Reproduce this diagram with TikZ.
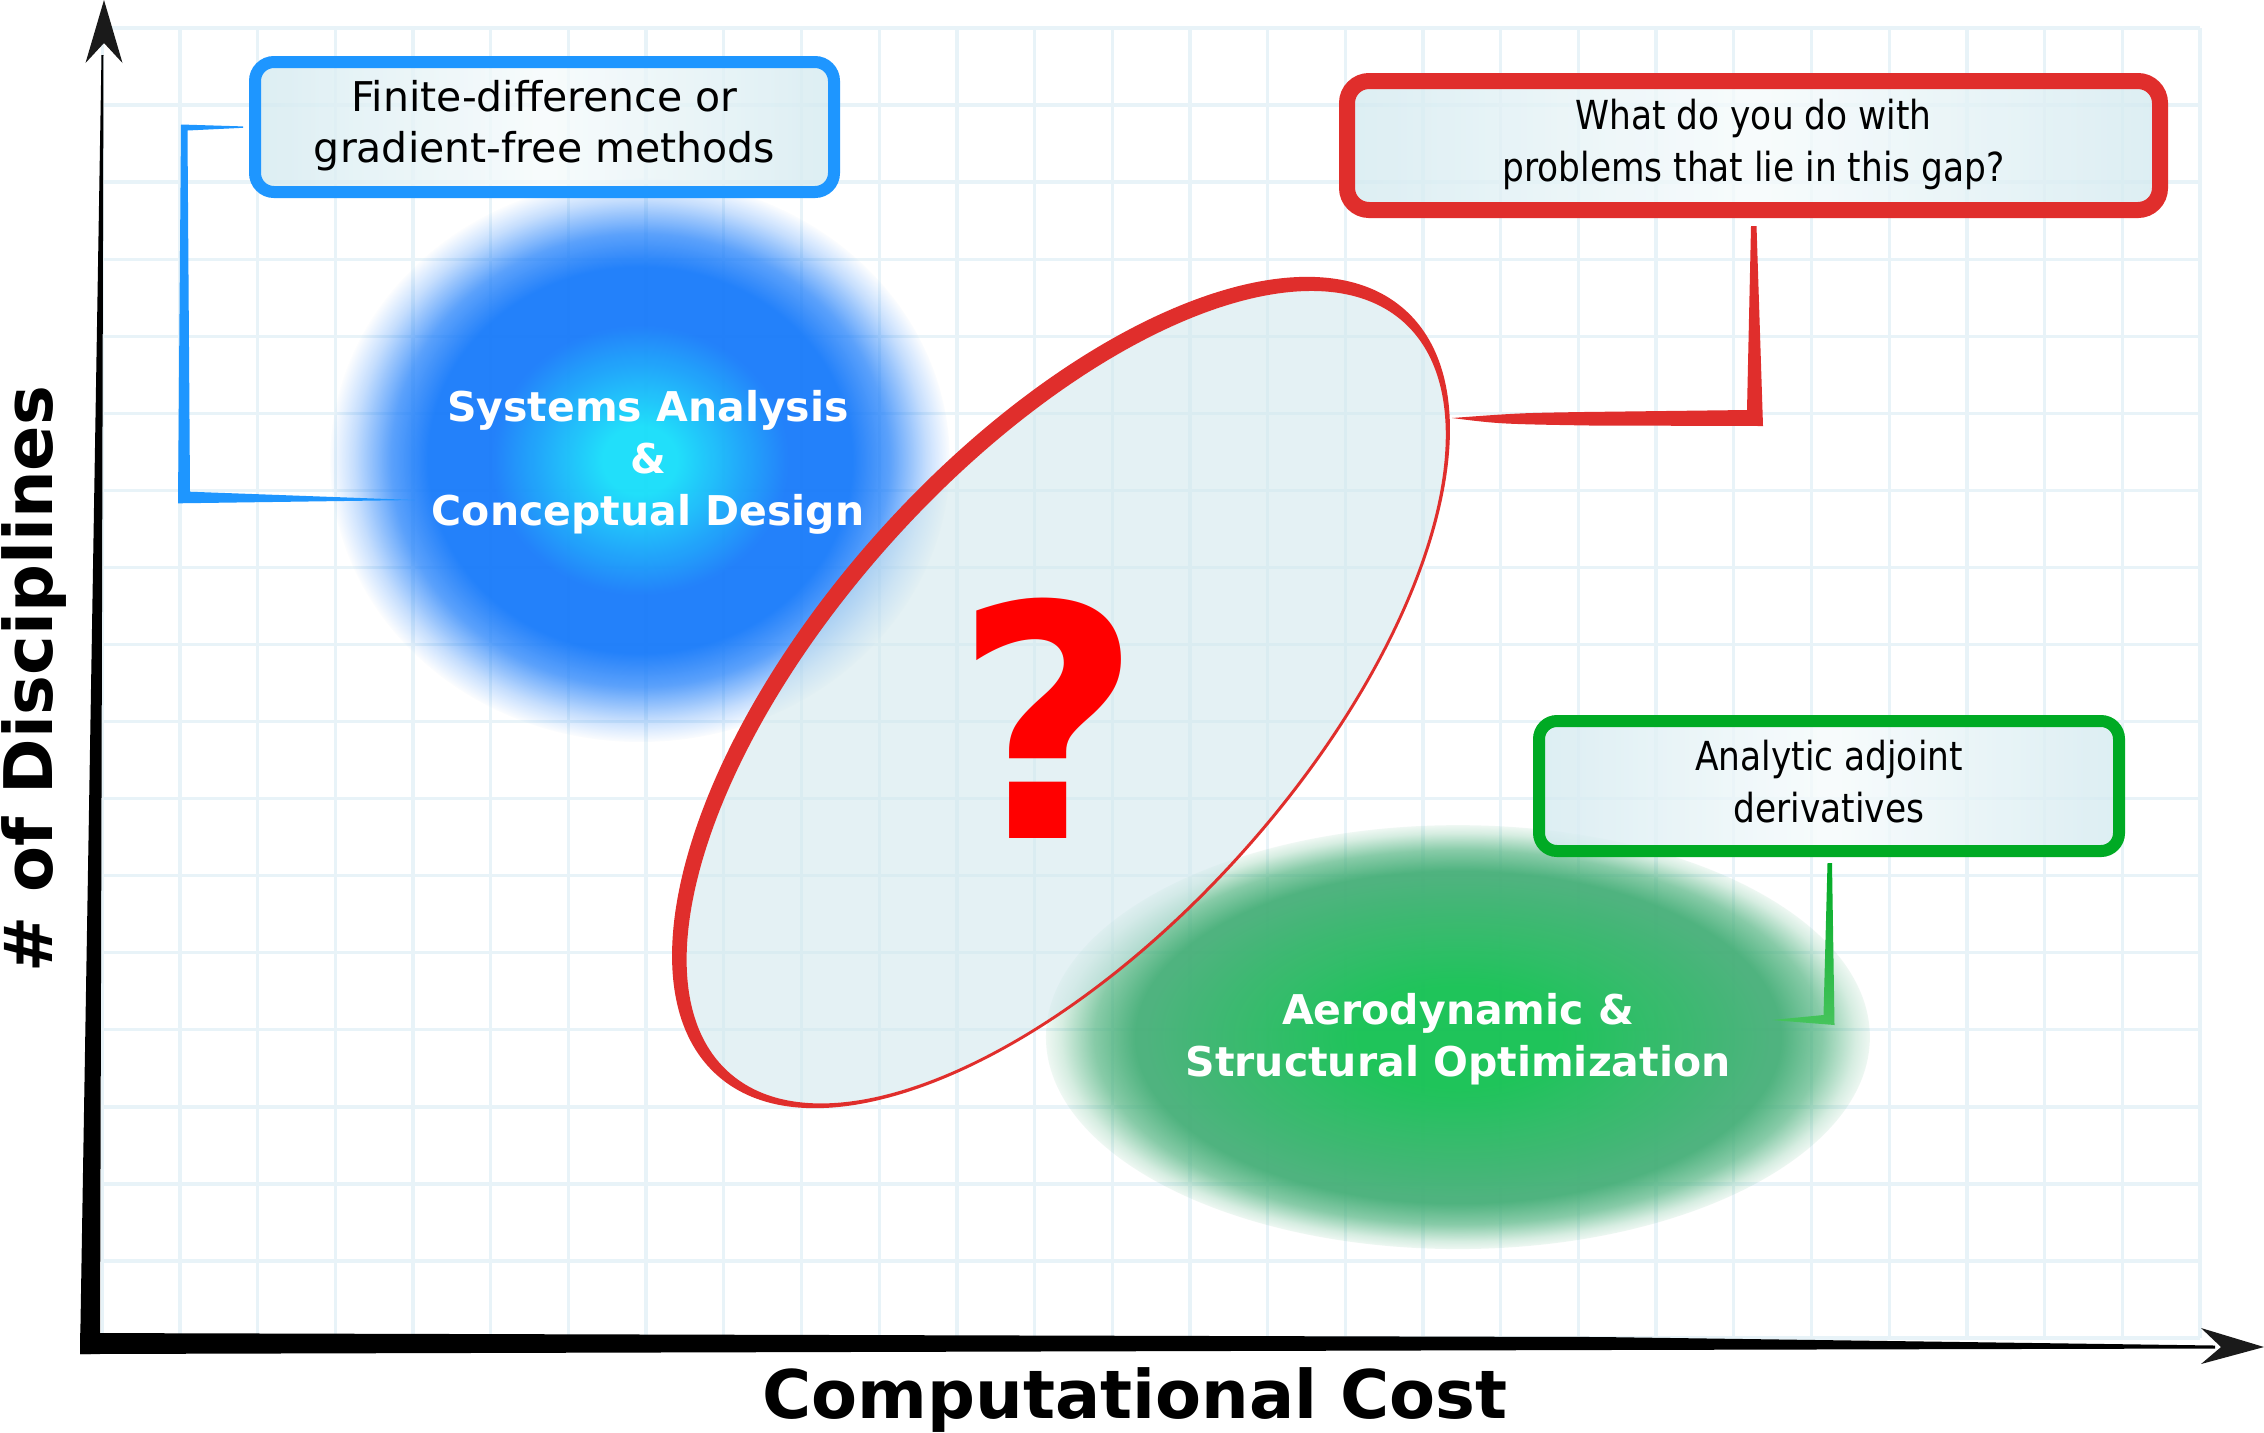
\documentclass[tikz,border=0pt]{standalone}
\usepackage{fontspec}
\setmainfont{DejaVu Sans}
\newfontfamily\condfont{DejaVu Sans}[FakeStretch=0.86]
\usetikzlibrary{fadings,calc}

\definecolor{gridc}{RGB}{232,243,248}
\definecolor{boxblue}{RGB}{30,150,255}
\definecolor{gapred}{RGB}{224,46,44}
\definecolor{boxgreen}{RGB}{0,170,36}
\definecolor{greenlow}{RGB}{70,196,92}
\definecolor{qred}{RGB}{255,0,0}
\definecolor{blobcyan}{RGB}{26,222,250}
\definecolor{blobblue}{RGB}{28,125,250}
\definecolor{greenbright}{RGB}{22,194,84}
\definecolor{greenmuted}{RGB}{72,176,122}
\definecolor{boxfill}{RGB}{212,234,240}
\definecolor{boxmid}{RGB}{246,251,252}
\definecolor{gapfill}{RGB}{210,232,237}
\definecolor{arrowc}{RGB}{26,26,26}

\pgfdeclareradialshading{blueblobshade}{\pgfpointorigin}{color(0bp)=(blobcyan); color(3bp)=(blobcyan); color(12bp)=(blobblue); color(50bp)=(blobblue)}
\pgfdeclareradialshading{greenblobshade}{\pgfpointorigin}{color(0bp)=(greenbright); color(6bp)=(greenbright); color(19bp)=(greenmuted); color(50bp)=(greenmuted)}
\pgfdeclareradialshading{bluefadeshade}{\pgfpointorigin}{color(0bp)=(white!97!black); color(17bp)=(white!97!black); color(20bp)=(white!72!black); color(23bp)=(white!25!black); color(25bp)=(black); color(50bp)=(black)}
\pgfdeclarefading{bluefade}{\pgfuseshading{bluefadeshade}}
\pgfdeclareradialshading{greenfadeshade}{\pgfpointorigin}{color(0bp)=(white!96!black); color(19.5bp)=(white!96!black); color(22bp)=(white!65!black); color(24bp)=(white!22!black); color(25.5bp)=(black); color(50bp)=(black)}
\pgfdeclarefading{greenfade}{\pgfuseshading{greenfadeshade}}

\newcommand\stacklines[1]{\begin{tabular}[t]{@{}c@{}}#1\end{tabular}}

\tikzset{
  gridline/.style={draw=gridc, line width=1.65pt},
  callout/.style={rectangle, inner sep=0pt, shade, left color=boxfill, right color=boxfill, middle color=boxmid, fill opacity=0.8, text opacity=1, text=black},
  boxfont/.style={font=\fontsize{20.5pt}{25.5pt}\selectfont},
  condboxfont/.style={font=\condfont\fontsize{20pt}{26pt}\selectfont},
  bloblabel/.style={inner sep=0pt, text=white, font=\fontsize{20.5pt}{26pt}\selectfont\bfseries},
  axislabel/.style={inner sep=0pt, text=black, font=\fontsize{33.5pt}{34pt}\selectfont\bfseries},
}

\begin{document}
\begin{tikzpicture}[x=0.5pt,y=-0.5pt]
\useasboundingbox (0,0) rectangle (2264,1432);
\fill[white] (0,0) rectangle (2264,1432);

% grid
\foreach \i in {0,...,27} \draw[gridline] ({102.3+77.69*\i},28) -- ({102.3+77.69*\i},1338);
\foreach \j in {0,...,17} \draw[gridline] (102,{28+77.06*\j}) -- (2200,{28+77.06*\j});

% blobs
\shade[shading=blueblobshade, path fading=bluefade] (640,460) ellipse [x radius=310, y radius=282];
\shade[shading=greenblobshade, path fading=greenfade] (1458,1037) ellipse [x radius=412, y radius=212];

% gap ellipse
\begin{scope}[shift={(1061,692.5)}, rotate=48]
  \fill[gapfill, fill opacity=0.6] (0,7) ellipse [x radius=504.5, y radius=233.3];
  \fill[gapred, even odd rule] (0,0) ellipse [x radius=514.5, y radius=243.3] (0,7) ellipse [x radius=504.5, y radius=233.3];
\end{scope}
\coordinate (gaptip) at (1452,418);

% question mark
\node[font=\fontsize{162pt}{162pt}\selectfont\bfseries, text=qred, anchor=base, inner sep=0pt] (qmark) at (1048.5,838) {?};

% axes
\coordinate (origin) at (90,1344);
\fill[black] (80,1333) -- (1600,1337) -- (2215,1345.5) -- (2215,1348.5) -- (1600,1350) -- (80,1354) -- cycle;
\fill[black] (80,1354) -- (101.5,55) -- (103.5,55) -- (100,1354) -- cycle;
\fill[arrowc] (104,0) -- (122.5,63) -- (104,43) -- (85.5,63) -- cycle;
\fill[arrowc] (2264,1347) -- (2201,1364) -- (2221,1347) -- (2201,1328) -- cycle;

% callout boxes
\node[callout, boxfont, draw=boxblue, line width=6pt, minimum width=289.5pt, minimum height=65pt, rounded corners=9.5pt] (fd) at (544.5,127) {\stacklines{Finite-difference or\\gradient-free methods}};
\node[callout, condboxfont, draw=gapred, line width=8pt, minimum width=406.5pt, minimum height=64.5pt, rounded corners=11pt] (gq) at (1753.5,145.5) {\stacklines{What do you do with\\problems that lie in this gap?}};
\node[callout, condboxfont, draw=boxgreen, line width=6pt, minimum width=290pt, minimum height=65pt, rounded corners=9pt] (adj) at (1829,786) {\stacklines{Analytic adjoint\\derivatives}};

% connectors
\coordinate (saend) at (415,500);
\coordinate (asoend) at (1772,1020);
\fill[boxblue] ($(fd.west)+(-6,-0.6)$) -- (181,124.5) -- (178,503.3) -- (saend) -- (190,491.7) -- (187.5,130.5) -- ($(fd.west)+(-6,0.8)$) -- cycle;
\fill[gapred] ($(gq.south)+(-2.5,8)$) -- (1747,410) -- (1583,412) .. controls (1520,413) .. (gaptip) .. controls (1500,424) .. (1590,425.5) -- (1763,426) -- ($(gq.south)+(3,8)$) -- cycle;
\shade[top color=boxgreen, bottom color=greenlow] ($(adj.south)+(-1.5,6)$) -- (1823.5,1015) -- (asoend) -- (1834.5,1025) -- ($(adj.south)+(3,6)$) -- cycle;

% blob labels
\node[bloblabel, anchor=base] (sacd) at (648,421) {\stacklines{Systems Analysis\\\&\\Conceptual Design}};
\node[bloblabel, anchor=base] (aso) at (1458,1024) {\stacklines{Aerodynamic \&\\Structural Optimization}};

% axis labels
\node[axislabel, anchor=base] (xlabel) at (1135,1418) {Computational Cost};
\node[axislabel, anchor=base, rotate=90] (ylabel) at (52,679) {\# of Disciplines};
\end{tikzpicture}
\end{document}
